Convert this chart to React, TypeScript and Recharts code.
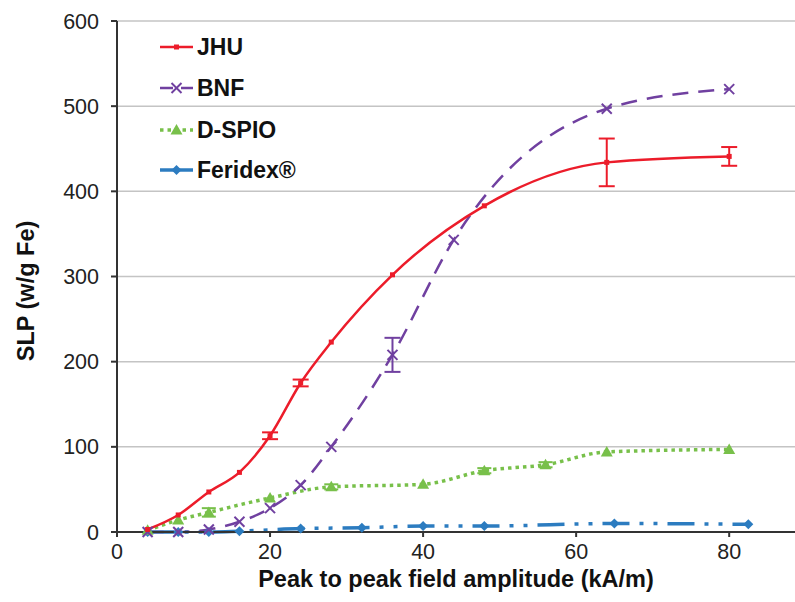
import React from 'react';
import { LineChart, Line, XAxis, YAxis, CartesianGrid, ErrorBar, Legend } from 'recharts';

const jhuX = [4, 8, 12, 16, 20, 24, 28, 36, 48, 64, 80];
const jhuY = [3, 20, 47, 70, 113, 175, 223, 302, 383, 434, 441];
const jhuErr = [0, 0, 0, 0, 4, 4, 0, 0, 0, 28, 11];

const bnfX = [4, 8, 12, 16, 20, 24, 28, 36, 44, 64, 80];
const bnfY = [0, 0, 3, 12, 28, 55, 100, 208, 343, 497, 520];
const bnfErr = [0, 0, 0, 0, 0, 0, 0, 20, 0, 0, 0];

const dspioX = [4, 8, 12, 20, 28, 40, 48, 56, 64, 80];
const dspioY = [2, 14, 23, 40, 53, 56, 72, 79, 94, 97];
const dspioErr = [0, 0, 5, 0, 3, 0, 3, 3, 0, 0];

const feridexX = [4, 8, 12, 16, 24, 32, 40, 48, 65, 82.5];
const feridexY = [0, 0, 0, 1, 4, 5, 7, 7, 10, 9];

const xTicks = [0, 20, 40, 60, 80];
const yTicks = [0, 100, 200, 300, 400, 500, 600];

const seriesNames = ['JHU', 'BNF', 'D-SPIO', 'Feridex®'];

const RED = '#ec1c2a';
const PURPLE = '#7040a0';
const GREEN = '#78c04a';
const BLUE = '#2c7cc0';
const FONT = '"Liberation Sans", Arial, sans-serif';

const build = (xs: number[], ys: number[], errs?: number[]) =>
  xs.map((x, i) => ({ x, y: ys[i], err: errs ? errs[i] : 0 }));

const jhuData = build(jhuX, jhuY, jhuErr);
const bnfData = build(bnfX, bnfY, bnfErr);
const dspioData = build(dspioX, dspioY, dspioErr);
const feridexData = build(feridexX, feridexY);

const DotJHU = (p: any) => (
  <rect key={`j${p.index}`} x={p.cx - 2.5} y={p.cy - 2.5} width={5} height={5} fill={RED} />
);
const DotBNF = (p: any) => (
  <g key={`b${p.index}`} stroke={PURPLE} strokeWidth={2}>
    <line x1={p.cx - 5} y1={p.cy - 5} x2={p.cx + 5} y2={p.cy + 5} />
    <line x1={p.cx - 5} y1={p.cy + 5} x2={p.cx + 5} y2={p.cy - 5} />
  </g>
);
const DotGreen = (p: any) => (
  <polygon
    key={`g${p.index}`}
    points={`${p.cx},${p.cy - 6} ${p.cx + 6},${p.cy + 4.5} ${p.cx - 6},${p.cy + 4.5}`}
    fill={GREEN}
  />
);
const DotBlue = (p: any) => (
  <polygon
    key={`f${p.index}`}
    points={`${p.cx},${p.cy - 5} ${p.cx + 5},${p.cy} ${p.cx},${p.cy + 5} ${p.cx - 5},${p.cy}`}
    fill={BLUE}
  />
);

const LegendContent = () => {
  const rows = [22, 63, 105, 145];
  return (
    <svg width={200} height={170} style={{ display: 'block' }}>
      <g>
        <line x1={10} y1={rows[0]} x2={43} y2={rows[0]} stroke={RED} strokeWidth={2.5} />
        <rect x={24} y={rows[0] - 2.5} width={5} height={5} fill={RED} />
      </g>
      <g>
        <line x1={10} y1={rows[1]} x2={43} y2={rows[1]} stroke={PURPLE} strokeWidth={2.5} strokeDasharray="13 8" />
        <line x1={21.5} y1={rows[1] - 5} x2={31.5} y2={rows[1] + 5} stroke={PURPLE} strokeWidth={2} />
        <line x1={21.5} y1={rows[1] + 5} x2={31.5} y2={rows[1] - 5} stroke={PURPLE} strokeWidth={2} />
      </g>
      <g>
        <line x1={10} y1={rows[2]} x2={43} y2={rows[2]} stroke={GREEN} strokeWidth={3.5} strokeDasharray="3.5 4" />
        <polygon points={`26.5,${rows[2] - 6} 32.5,${rows[2] + 4.5} 20.5,${rows[2] + 4.5}`} fill={GREEN} />
      </g>
      <g>
        <line x1={10} y1={rows[3]} x2={43} y2={rows[3]} stroke={BLUE} strokeWidth={3.5} />
        <polygon points={`26.5,${rows[3] - 5} 31.5,${rows[3]} 26.5,${rows[3] + 5} 21.5,${rows[3]}`} fill={BLUE} />
      </g>
      {seriesNames.map((n, i) => (
        <text
          key={n}
          x={47}
          y={rows[i]}
          dy="0.36em"
          fontFamily={FONT}
          fontWeight="bold"
          fontSize={23}
          fill="#111"
        >
          {n}
        </text>
      ))}
    </svg>
  );
};

const XLabel = (props: any) => {
  const vb = props.viewBox || {};
  return (
    <text
      x={vb.x + vb.width / 2}
      y={587}
      textAnchor="middle"
      fontFamily={FONT}
      fontWeight="bold"
      fontSize={23.5}
      fill="#111"
    >
      Peak to peak field amplitude (kA/m)
    </text>
  );
};

const YLabel = () => (
  <text
    x={26}
    y={291}
    transform="rotate(-90 26 291)"
    textAnchor="middle"
    dominantBaseline="central"
    fontFamily={FONT}
    fontWeight="bold"
    fontSize={23.5}
    fill="#111"
  >
    SLP (w/g Fe)
  </text>
);

export default function App() {
  return (
    <div style={{ position: 'absolute', left: 0, top: 0, width: 795, height: 602, background: '#fff' }}>
      <LineChart width={795} height={602} margin={{ top: 21, right: 0, bottom: 0, left: 0 }}>
        <CartesianGrid vertical={false} stroke="#c4c4c4" strokeWidth={1.5} />
        <XAxis
          type="number"
          dataKey="x"
          domain={[0, 88.6]}
          ticks={xTicks}
          allowDataOverflow
          height={70}
          stroke="#333"
          strokeWidth={2}
          tickSize={5}
          tickMargin={7}
          tick={{ fill: '#222', fontSize: 21.5, fontFamily: FONT }}
          label={<XLabel />}
        />
        <YAxis
          type="number"
          domain={[0, 600]}
          ticks={yTicks}
          width={117}
          stroke="#333"
          strokeWidth={2}
          tickSize={6}
          tickMargin={12}
          tick={{ fill: '#222', fontSize: 21.5, fontFamily: FONT }}
          label={<YLabel />}
        />
        <Legend
          layout="vertical"
          align="center"
          verticalAlign="middle"
          content={<LegendContent />}
          wrapperStyle={{ position: 'absolute', left: 150, top: 25, width: 200, height: 170 }}
        />
        <Line
          data={feridexData}
          dataKey="y"
          type="monotone"
          stroke={BLUE}
          strokeWidth={3.5}
          strokeDasharray="27 10 4 10 4 10"
          dot={DotBlue}
          activeDot={false}
          isAnimationActive={false}
          name="Feridex®"
        />
        <Line
          data={dspioData}
          dataKey="y"
          type="monotone"
          stroke={GREEN}
          strokeWidth={3.5}
          strokeDasharray="3.5 4"
          dot={DotGreen}
          activeDot={false}
          isAnimationActive={false}
          name="D-SPIO"
        >
          <ErrorBar dataKey="err" direction="y" width={7} stroke={GREEN} strokeWidth={2} />
        </Line>
        <Line
          data={bnfData}
          dataKey="y"
          type="monotone"
          stroke={PURPLE}
          strokeWidth={2.5}
          strokeDasharray="16 10"
          dot={DotBNF}
          activeDot={false}
          isAnimationActive={false}
          name="BNF"
        >
          <ErrorBar dataKey="err" direction="y" width={8} stroke={PURPLE} strokeWidth={2} />
        </Line>
        <Line
          data={jhuData}
          dataKey="y"
          type="monotone"
          stroke={RED}
          strokeWidth={2.5}
          dot={DotJHU}
          activeDot={false}
          isAnimationActive={false}
          name="JHU"
        >
          <ErrorBar dataKey="err" direction="y" width={8} stroke={RED} strokeWidth={2} />
        </Line>
      </LineChart>
    </div>
  );
}
